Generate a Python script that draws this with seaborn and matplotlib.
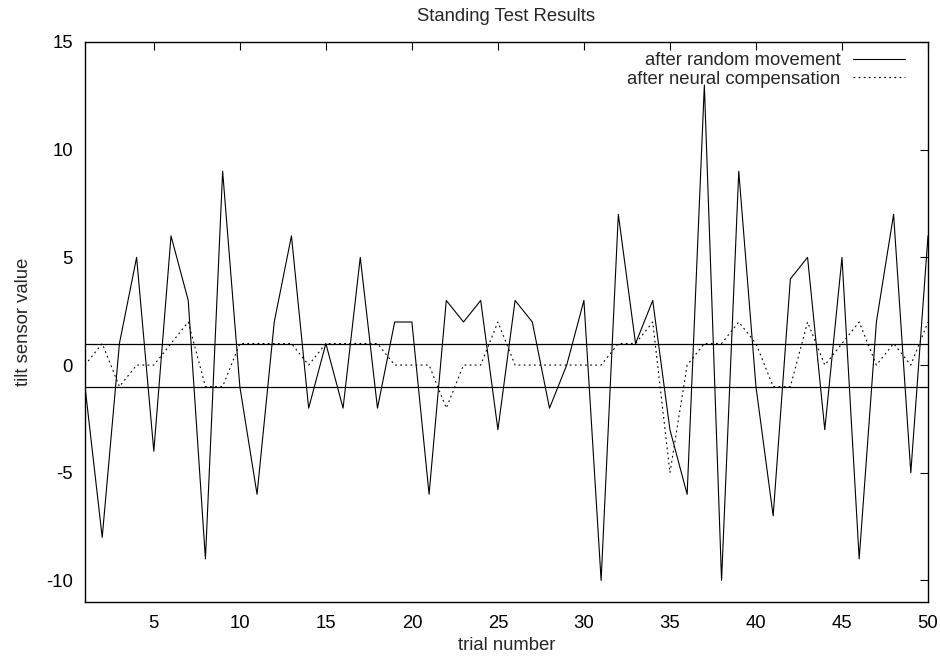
import matplotlib
matplotlib.use("Agg")
import matplotlib.pyplot as plt
import seaborn as sns
import pandas as pd

# ---- data ----
trials = list(range(1, 51))
random_movement = [-1, -8, 1, 5, -4, 6, 3, -9, 9, -1,
                   -6, 2, 6, -2, 1, -2, 5, -2, 2, 2,
                   -6, 3, 2, 3, -3, 3, 2, -2, 0, 3,
                   -10, 7, 1, 3, -3, -6, 13, -10, 9, -1,
                   -7, 4, 5, -3, 5, -9, 2, 7, -5, 6]
neural_compensation = [0, 1, -1, 0, 0, 1, 2, -1, -1, 1,
                       1, 1, 1, 0, 1, 1, 1, 1, 0, 0,
                       0, -2, 0, 0, 2, 0, 0, 0, 0, 0,
                       0, 1, 1, 2, -5, 0, 1, 1, 2, 1,
                       -1, -1, 2, 0, 1, 2, 0, 1, 0, 2]
thresholds = [1, -1]
x_ticks = [5, 10, 15, 20, 25, 30, 35, 40, 45, 50]
y_ticks = [-10, -5, 0, 5, 10, 15]
series_labels = ["after random movement", "after neural compensation"]

sns.set_style("white")
plt.rcParams["font.family"] = ["Liberation Sans", "DejaVu Sans"]
plt.rcParams["axes.unicode_minus"] = False
FS = 13.3

fig = plt.figure(figsize=(9.4, 6.6), dpi=100)
ax = fig.add_axes([85 / 940, 58 / 660, 843 / 940, 560 / 660])

df = pd.DataFrame({"trial": trials,
                   "random": random_movement,
                   "neural": neural_compensation})

sns.lineplot(data=df, x="trial", y="random", ax=ax, color="black",
             linewidth=0.8, label=series_labels[0], zorder=2)
sns.lineplot(data=df, x="trial", y="neural", ax=ax, color="black",
             linewidth=0.8, linestyle=(0, (1.6, 3.0)), label=series_labels[1],
             zorder=1.5)
for t in thresholds:
    ax.axhline(t, color="black", linewidth=0.9, zorder=3)

ax.set_xlim(1, 50)
ax.set_ylim(-11, 15)
ax.set_xticks(x_ticks)
ax.set_yticks(y_ticks)
ax.tick_params(direction="in", length=6, width=0.8, top=True, right=True,
               labelsize=FS, colors="black")
ax.tick_params(axis="x", pad=9)
ax.tick_params(axis="y", pad=8.8)
for s in ax.spines.values():
    s.set_linewidth(1.0)
    s.set_color("black")
    s.set_zorder(4)

ax.set_title("Standing Test Results", fontsize=FS, pad=15)
ax.set_xlabel("trial number", fontsize=FS, labelpad=4)
ax.set_ylabel("tilt sensor value", fontsize=FS, labelpad=10)

ax.legend(loc="upper right", bbox_to_anchor=(0.9727, 0.982), frameon=False,
          markerfirst=False, handlelength=2.8, handletextpad=0.7,
          borderpad=0, borderaxespad=0, labelspacing=0.1, fontsize=FS)

fig.savefig("out.png", dpi=100)
